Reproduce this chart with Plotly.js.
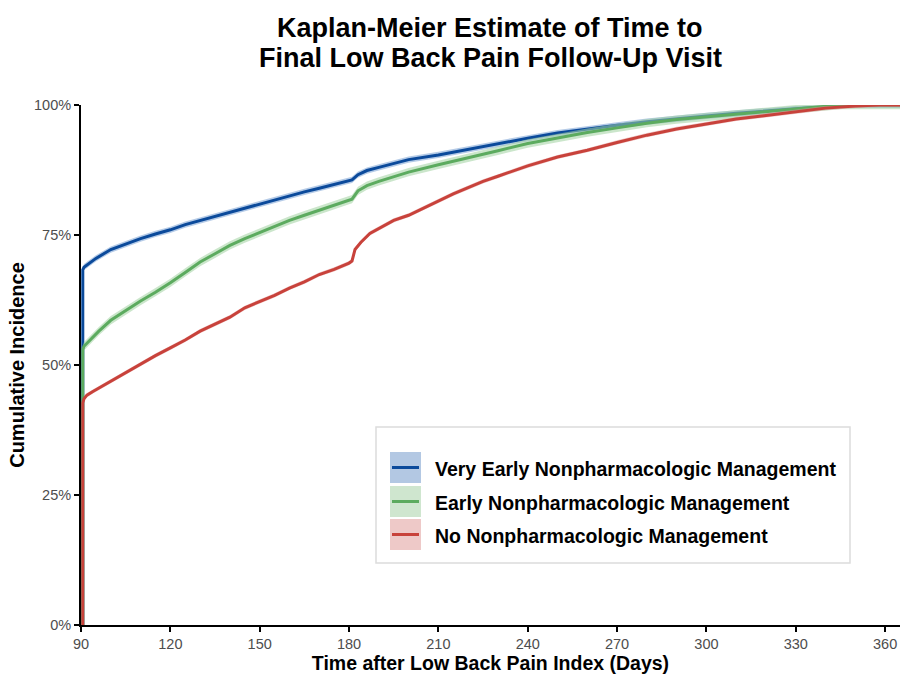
<!DOCTYPE html>
<html>
<head>
<meta charset="utf-8">
<script src="https://cdn.plot.ly/plotly-3.0.1.min.js"></script>
<style>html,body{margin:0;padding:0;background:#fff;}#chart{width:900px;height:676px;}</style>
</head>
<body>
<div id="chart"></div>
<script>
// ---- Data ----
const titleLines = ["Kaplan-Meier Estimate of Time to", "Final Low Back Pain Follow-Up Visit"];
const seriesNames = [
  "Very Early Nonpharmacologic Management",
  "Early Nonpharmacologic Management",
  "No Nonpharmacologic Management"
];
const veryEarlyDays = [90.6, 90.6, 91, 93, 95, 100, 105, 110, 115, 120, 125, 130, 135, 140, 145, 150, 155, 160, 165, 170, 175, 180, 181, 183, 186, 190, 195, 200, 210, 220, 230, 240, 250, 260, 270, 280, 290, 300, 310, 320, 330, 340, 345, 365];
const veryEarlyPct = [0, 68.3, 68.8, 69.6, 70.5, 72.2, 73.3, 74.3, 75.2, 76.0, 77.0, 77.8, 78.6, 79.4, 80.2, 80.9, 81.7, 82.5, 83.3, 84.0, 84.7, 85.4, 85.6, 86.6, 87.4, 88.0, 88.8, 89.5, 90.4, 91.5, 92.6, 93.6, 94.6, 95.4, 96.1, 96.8, 97.4, 97.9, 98.4, 98.8, 99.2, 99.7, 100, 100];

const earlyDays = [90.6, 90.6, 91, 92, 94, 96, 100, 105, 110, 115, 120, 125, 130, 135, 140, 145, 150, 155, 160, 165, 170, 175, 180, 181, 183, 186, 190, 195, 200, 210, 220, 230, 240, 250, 260, 270, 280, 290, 300, 310, 320, 330, 340, 345, 365];
const earlyPct = [0, 53.0, 53.6, 54.2, 55.2, 56.5, 58.6, 60.5, 62.3, 64.0, 65.8, 67.8, 69.8, 71.4, 73.0, 74.3, 75.5, 76.6, 77.8, 78.8, 79.8, 80.8, 81.7, 81.9, 83.5, 84.5, 85.3, 86.2, 87.1, 88.5, 89.8, 91.2, 92.6, 93.7, 94.7, 95.6, 96.5, 97.2, 97.7, 98.3, 98.8, 99.2, 99.7, 100, 100];

const noneDays = [90.6, 90.6, 91, 92, 94, 97, 100, 105, 110, 115, 120, 125, 130, 135, 140, 145, 150, 155, 160, 165, 170, 175, 180, 181, 182, 184, 187, 191, 195, 200, 205, 210, 215, 220, 225, 230, 240, 250, 260, 270, 280, 290, 300, 310, 320, 330, 340, 350, 358, 365];
const nonePct = [0, 42.7, 43.5, 44.2, 44.9, 45.9, 46.9, 48.6, 50.1, 51.8, 53.3, 54.8, 56.5, 57.8, 59.2, 61.0, 62.2, 63.4, 64.8, 66.0, 67.4, 68.4, 69.6, 70.0, 72.2, 73.6, 75.3, 76.6, 77.8, 78.8, 80.2, 81.6, 82.9, 84.1, 85.3, 86.3, 88.3, 90.0, 91.3, 92.8, 94.2, 95.4, 96.3, 97.3, 98.0, 98.7, 99.4, 99.8, 100, 100];

// estimated half-width of the confidence band (percentage points)
const ciHalfWidth = [0.6, 0.8, 0.4];

const xTickVals = [90, 120, 150, 180, 210, 240, 270, 300, 330, 360];
const yTickVals = [0, 25, 50, 75, 100];

// ---- Styles ----
const FONT = "Liberation Sans, Arial, sans-serif";
const lineColors = ["#0b4a9b", "#5cab5f", "#c8423b"];
const bandColors = ["rgba(120,160,212,0.55)", "rgba(160,210,160,0.55)", "rgba(228,150,150,0.5)"];
const keyColors = ["#b3c8e3", "#cfe6cf", "#eec9c8"];

const days = [veryEarlyDays, earlyDays, noneDays];
const pcts = [veryEarlyPct, earlyPct, nonePct];

const traces = [];
for (let i = 0; i < 3; i++) {
  const lo = pcts[i].map((v, k) => k === 0 ? v : Math.max(0, v - ciHalfWidth[i]));
  const hi = pcts[i].map((v, k) => k === 0 ? v : Math.min(100, v + ciHalfWidth[i]));
  traces.push({x: days[i], y: lo, mode: "lines", line: {width: 0, color: bandColors[i]}, hoverinfo: "skip", showlegend: false});
  traces.push({x: days[i], y: hi, mode: "lines", fill: "tonexty", fillcolor: bandColors[i], line: {width: 0, color: bandColors[i]}, hoverinfo: "skip", showlegend: false});
  traces.push({x: days[i], y: pcts[i], name: seriesNames[i], mode: "lines", line: {width: 3, color: lineColors[i]}, showlegend: false});
}

// ---- Custom legend and title drawn in paper coords ----
const L = 81, R = 900, T = 105, B = 625;
const px = v => (v - L) / (R - L);
const py = v => (B - v) / (B - T);
const shapes = [{type: "rect", xref: "paper", yref: "paper", x0: px(376), x1: px(850), y0: py(563), y1: py(427), line: {color: "#dcdcdc", width: 1.5}, fillcolor: "#ffffff", layer: "above"}];
const annotations = [];
const keyTops = [452, 486, 519];
for (let i = 0; i < 3; i++) {
  const t = keyTops[i], b = t + 31, c = (t + b) / 2;
  shapes.push({type: "rect", xref: "paper", yref: "paper", x0: px(390), x1: px(421), y0: py(b), y1: py(t), line: {width: 0}, fillcolor: keyColors[i], layer: "above"});
  shapes.push({type: "line", xref: "paper", yref: "paper", x0: px(392), x1: px(419), y0: py(c), y1: py(c), line: {color: lineColors[i], width: 3}, layer: "above"});
  annotations.push({xref: "paper", yref: "paper", x: px(433), y: py(c + 1), xanchor: "left", yanchor: "middle", text: "<b>" + seriesNames[i] + "</b>", showarrow: false, font: {family: FONT, size: 19.5, color: "#000"}});
}
const titleMids = [28, 58];
titleLines.forEach((t, i) => {
  annotations.push({xref: "paper", yref: "paper", x: px(490), y: py(titleMids[i]), xanchor: "center", yanchor: "middle", text: "<b>" + t + "</b>", showarrow: false, font: {family: FONT, size: 27, color: "#000"}});
});

const layout = {
  width: 900, height: 676,
  margin: {l: L, r: 900 - R, t: T, b: 676 - B},
  paper_bgcolor: "#fff", plot_bgcolor: "#fff",
  font: {family: FONT},
  xaxis: {
    range: [90, 365], tickvals: xTickVals, ticktext: xTickVals.map(String),
    showgrid: false, zeroline: false, showline: true, linecolor: "#000", linewidth: 2,
    ticks: "outside", ticklen: 5, tickwidth: 2, tickcolor: "#000",
    tickfont: {size: 14.5, color: "#4d4d4d"},
    title: {text: "<b>Time after Low Back Pain Index (Days)</b>", font: {size: 19.5, color: "#000"}, standoff: 4}
  },
  yaxis: {
    range: [0, 100], tickvals: yTickVals, ticktext: yTickVals.map(v => v + "%"),
    showgrid: false, zeroline: false, showline: true, linecolor: "#000", linewidth: 2,
    ticks: "outside", ticklen: 5, tickwidth: 2, tickcolor: "#000",
    tickfont: {size: 14.5, color: "#4d4d4d"},
    title: {text: "<b>Cumulative Incidence</b>", font: {size: 20, color: "#000"}, standoff: 4}
  },
  shapes: shapes,
  annotations: annotations,
  showlegend: false
};

Plotly.newPlot("chart", traces, layout, {displayModeBar: false, staticPlot: true});
</script>
</body>
</html>
